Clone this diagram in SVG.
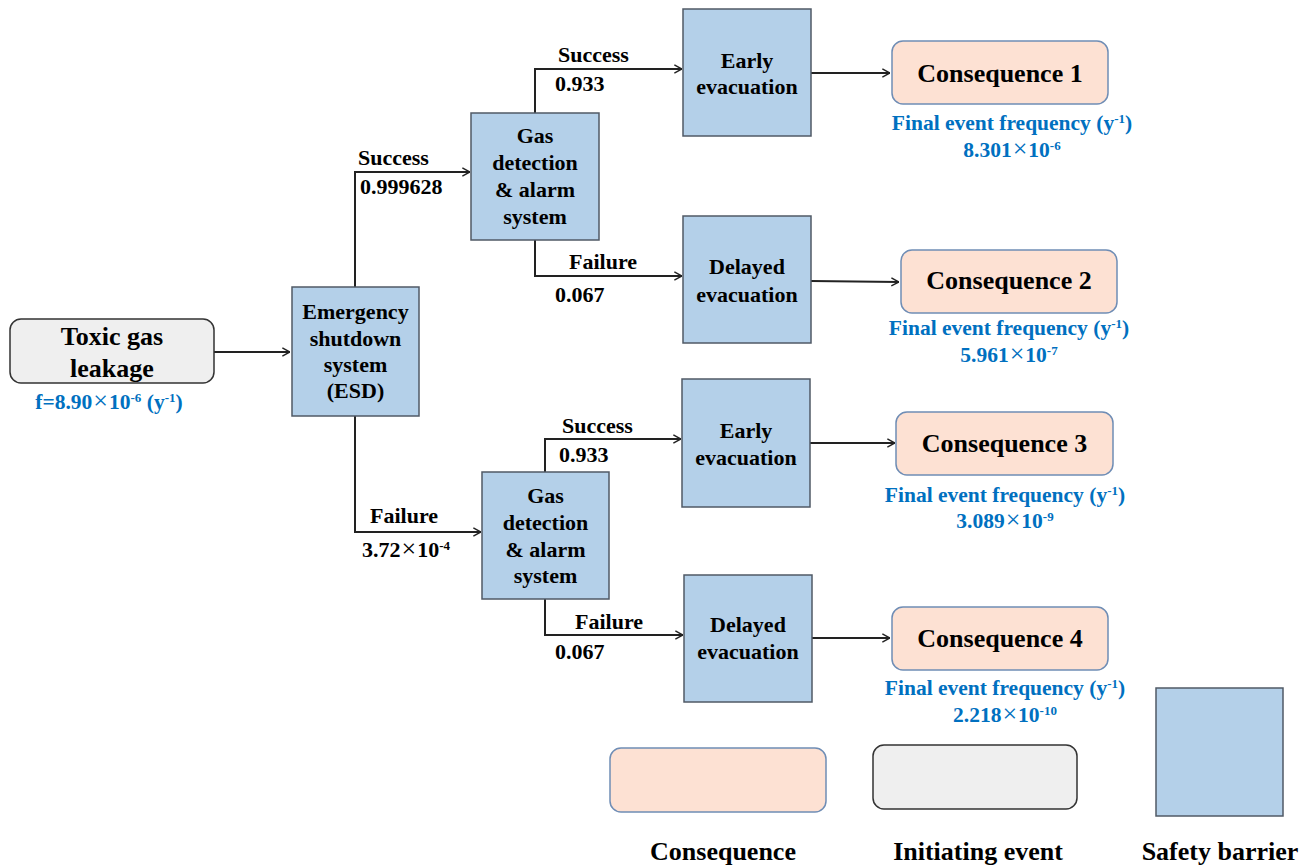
<svg xmlns="http://www.w3.org/2000/svg" width="1311" height="868" viewBox="0 0 1311 868">
<style>
.t{font-family:"Liberation Serif","Times New Roman",serif;font-weight:bold;fill:#000}
.m{font-size:22px;text-anchor:middle}
.l{font-size:22px}
.big{font-size:26px;text-anchor:middle}
.b{font-family:"Liberation Serif","Times New Roman",serif;font-weight:bold;fill:#0070c0;font-size:21.5px;text-anchor:middle}
.x{font-size:26px;font-weight:normal}
.sp{font-size:13px}
.sb{fill:#b4d0e9;stroke:#505a66;stroke-width:1.5}
.cq{fill:#fde1d3;stroke:#6f8db5;stroke-width:1.5}
.ie{fill:#efefef;stroke:#333;stroke-width:1.5}
.c{fill:none;stroke:#222;stroke-width:2}
</style>
<defs>
<marker id="a" viewBox="0 0 10 10" refX="9.5" refY="5" markerWidth="9" markerHeight="10" markerUnits="userSpaceOnUse" orient="auto">
<path d="M1,0.5 L9.5,5 L1,9.5" fill="none" stroke="#222" stroke-width="1.6"/>
</marker>
</defs>
<rect width="1311" height="868" fill="#fff"/>

<g id="connectors">
<path class="c" d="M214,352 H290" marker-end="url(#a)"/>
<path class="c" d="M355,287 V172 H470" marker-end="url(#a)"/>
<path class="c" d="M355,416 V532 H481" marker-end="url(#a)"/>
<path class="c" d="M535,113 V69 H682" marker-end="url(#a)"/>
<path class="c" d="M535,240 V276 H682" marker-end="url(#a)"/>
<path class="c" d="M545,472 V439 H681" marker-end="url(#a)"/>
<path class="c" d="M545,599 V635 H683" marker-end="url(#a)"/>
<path class="c" d="M811,73 H890" marker-end="url(#a)"/>
<path class="c" d="M811,281 L899,282" marker-end="url(#a)"/>
<path class="c" d="M810,443 H895" marker-end="url(#a)"/>
<path class="c" d="M812,638 H890" marker-end="url(#a)"/>
<text class="t l" x="358" y="165">Success</text>
<text class="t l" x="360" y="194">0.999628</text>
<text class="t l" x="370" y="523">Failure</text>
<text class="t l" x="362" y="557">3.72<tspan class="x" dx="1">×</tspan><tspan dx="1">10</tspan><tspan class="sp" dy="-7">-4</tspan></text>
<text class="t l" x="558" y="62">Success</text>
<text class="t l" x="555" y="91">0.933</text>
<text class="t l" x="569" y="269">Failure</text>
<text class="t l" x="555" y="302">0.067</text>
<text class="t l" x="562" y="433">Success</text>
<text class="t l" x="559" y="462">0.933</text>
<text class="t l" x="575" y="629">Failure</text>
<text class="t l" x="555" y="659">0.067</text>
</g>

<g id="toxic-gas-leakage">
<rect class="ie" x="10" y="319" width="204" height="64" rx="11"/>
<text class="t big" x="112" y="345">Toxic gas</text>
<text class="t big" x="112" y="377">leakage</text>
<text class="b" x="109" y="409">f=8.90<tspan class="x" dx="1">×</tspan><tspan dx="1">10</tspan><tspan class="sp" dy="-7">-6</tspan><tspan dy="7"> (y</tspan><tspan class="sp" dy="-7">-1</tspan><tspan dy="7">)</tspan></text>
</g>

<g id="esd">
<rect class="sb" x="292" y="287" width="127" height="129"/>
<text class="t m" x="355.5" y="319">Emergency</text>
<text class="t m" x="355.5" y="346">shutdown</text>
<text class="t m" x="355.5" y="372">system</text>
<text class="t m" x="355.5" y="398">(ESD)</text>
</g>

<g id="gas-detection-1">
<rect class="sb" x="471" y="113" width="128" height="127"/>
<text class="t m" x="535" y="143">Gas</text>
<text class="t m" x="535" y="170">detection</text>
<text class="t m" x="535" y="197">&amp; alarm</text>
<text class="t m" x="535" y="224">system</text>
</g>

<g id="gas-detection-2">
<rect class="sb" x="482" y="472" width="127" height="127"/>
<text class="t m" x="545.5" y="503">Gas</text>
<text class="t m" x="545.5" y="530">detection</text>
<text class="t m" x="545.5" y="557">&amp; alarm</text>
<text class="t m" x="545.5" y="583">system</text>
</g>

<g id="early-evacuation-1">
<rect class="sb" x="683" y="9" width="128" height="127"/>
<text class="t m" x="747" y="68">Early</text>
<text class="t m" x="747" y="94">evacuation</text>
</g>

<g id="delayed-evacuation-1">
<rect class="sb" x="683" y="216" width="128" height="127"/>
<text class="t m" x="747" y="274">Delayed</text>
<text class="t m" x="747" y="302">evacuation</text>
</g>

<g id="early-evacuation-2">
<rect class="sb" x="682" y="379" width="128" height="128"/>
<text class="t m" x="746" y="438">Early</text>
<text class="t m" x="746" y="465">evacuation</text>
</g>

<g id="delayed-evacuation-2">
<rect class="sb" x="684" y="575" width="128" height="127"/>
<text class="t m" x="748" y="632">Delayed</text>
<text class="t m" x="748" y="659">evacuation</text>
</g>

<g id="consequence-1">
<rect class="cq" x="892" y="41" width="216" height="63" rx="11"/>
<text class="t big" x="1000" y="82">Consequence 1</text>
<text class="b" x="1012" y="130">Final event frequency (y<tspan class="sp" dy="-7">-1</tspan><tspan dy="7">)</tspan></text>
<text class="b" x="1012" y="157">8.301<tspan class="x" dx="1">×</tspan><tspan dx="1">10</tspan><tspan class="sp" dy="-7">-6</tspan></text>
</g>

<g id="consequence-2">
<rect class="cq" x="901" y="250" width="216" height="63" rx="11"/>
<text class="t big" x="1009" y="289">Consequence 2</text>
<text class="b" x="1009" y="335">Final event frequency (y<tspan class="sp" dy="-7">-1</tspan><tspan dy="7">)</tspan></text>
<text class="b" x="1009" y="362">5.961<tspan class="x" dx="1">×</tspan><tspan dx="1">10</tspan><tspan class="sp" dy="-7">-7</tspan></text>
</g>

<g id="consequence-3">
<rect class="cq" x="896" y="412" width="217" height="63" rx="11"/>
<text class="t big" x="1004.5" y="452">Consequence 3</text>
<text class="b" x="1005" y="502">Final event frequency (y<tspan class="sp" dy="-7">-1</tspan><tspan dy="7">)</tspan></text>
<text class="b" x="1005" y="528">3.089<tspan class="x" dx="1">×</tspan><tspan dx="1">10</tspan><tspan class="sp" dy="-7">-9</tspan></text>
</g>

<g id="consequence-4">
<rect class="cq" x="892" y="607" width="216" height="63" rx="11"/>
<text class="t big" x="1000" y="647">Consequence 4</text>
<text class="b" x="1005" y="695">Final event frequency (y<tspan class="sp" dy="-7">-1</tspan><tspan dy="7">)</tspan></text>
<text class="b" x="1005" y="722">2.218<tspan class="x" dx="1">×</tspan><tspan dx="1">10</tspan><tspan class="sp" dy="-7">-10</tspan></text>
</g>

<g id="legend-consequence">
<rect class="cq" x="610" y="748" width="216" height="64" rx="11"/>
<text class="t big" x="723" y="860">Consequence</text>
</g>
<g id="legend-initiating-event">
<rect class="ie" x="873" y="745" width="204" height="64" rx="11"/>
<text class="t big" x="978" y="860">Initiating event</text>
</g>
<g id="legend-safety-barrier">
<rect class="sb" x="1156" y="688" width="127" height="128"/>
<text class="t big" x="1220" y="860">Safety barrier</text>
</g>
</svg>
